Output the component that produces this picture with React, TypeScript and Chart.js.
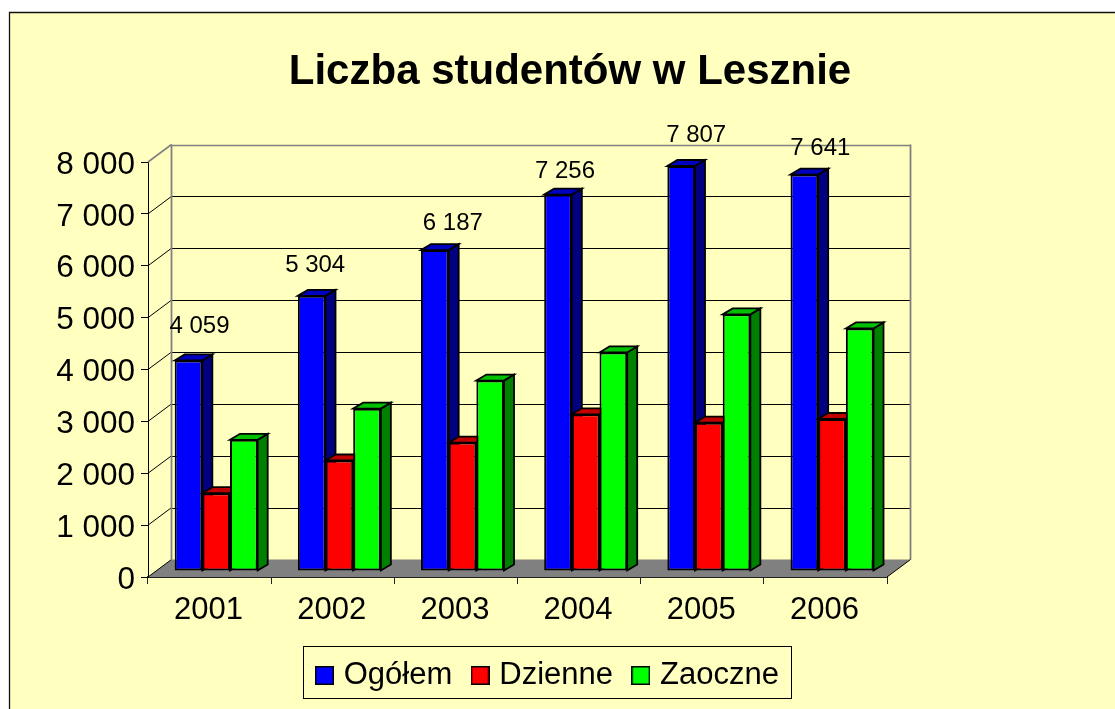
import React, { useEffect, useRef } from "react";
import { Chart, registerables } from "chart.js";

Chart.register(...registerables);

const years = ["2001", "2002", "2003", "2004", "2005", "2006"];
const ogolem = [4059, 5304, 6187, 7256, 7807, 7641];
const dzienne = [1500, 2130, 2475, 3020, 2860, 2930];
const zaoczne = [2529, 3130, 3671, 4213, 4947, 4676];

const FONT = '"Liberation Sans", Arial, sans-serif';
const FRONT = ["#0000FF", "#FF0000", "#00FF00"];
const TOP = ["#0000C0", "#C00000", "#00C000"];
const SIDE = ["#000080", "#800000", "#008000"];
const WALL_DX = 23.5, WALL_DY = 17.5;
const BAR_DX = 6.6, BAR_DY = 6;
const FACE_DX = 10, FACE_DY = 6;
// hand placement of the value labels relative to their bar (as in the source chart)
const LABEL_SHIFT = [[11, 34], [3.5, 30], [18, 27], [7, 23], [15, 31], [16, 26]];

function marker(color: string) {
  const c = document.createElement("canvas");
  c.width = 19; c.height = 19;
  const x = c.getContext("2d")!;
  x.fillStyle = "#000"; x.fillRect(0, 0, 19, 19);
  x.fillStyle = color; x.fillRect(1.5, 1.5, 16, 16);
  return c;
}

const scene = {
  id: "scene",
  afterLayout(chart: any) {
    const t = chart.titleBlock;
    t.left = 10; t.right = 1130; t.top = 47; t.bottom = t.top + 50.4;
    const l = chart.legend;
    l.maxWidth = 1000;
    l.fit();
    l.left = 296.75; l.right = 1100; l.top = 636; l.bottom = 698;
  },
  beforeDraw(chart: any) {
    const c = chart.ctx;
    c.save();
    c.fillStyle = "#FFFFFF"; c.fillRect(0, 0, chart.width, chart.height);
    c.fillStyle = "#FFFFC0"; c.fillRect(9.5, 12.5, chart.width, chart.height);
    c.strokeStyle = "#111"; c.lineWidth = 1.3;
    c.beginPath(); c.moveTo(9.5, chart.height); c.lineTo(9.5, 12.5); c.lineTo(chart.width, 12.5); c.stroke();
    c.restore();
  },
  beforeDatasetsDraw(chart: any) {
    const c = chart.ctx;
    const a = chart.chartArea;
    const y = chart.scales.y;
    c.save();
    // floor
    c.fillStyle = "#808080";
    c.beginPath();
    c.moveTo(a.left, a.bottom); c.lineTo(a.right, a.bottom);
    c.lineTo(a.right + WALL_DX, a.bottom - WALL_DY); c.lineTo(a.left + WALL_DX, a.bottom - WALL_DY);
    c.closePath(); c.fill();
    // back wall grid and side wall diagonals
    y.ticks.forEach((tk: any) => {
      const p = y.getPixelForValue(tk.value);
      const top = tk.value === y.max;
      c.strokeStyle = top ? "#808080" : "#000";
      c.lineWidth = top ? 1.6 : 1;
      if (tk.value > 0) {
        c.beginPath();
        c.moveTo(a.left + WALL_DX, Math.round(p - WALL_DY) + 0.5);
        c.lineTo(a.right + WALL_DX, Math.round(p - WALL_DY) + 0.5);
        c.stroke();
      }
      c.beginPath();
      c.moveTo(a.left, p); c.lineTo(a.left + WALL_DX, p - WALL_DY); c.stroke();
    });
    c.strokeStyle = "#808080"; c.lineWidth = 1.8;
    [a.left + WALL_DX, a.right + WALL_DX].forEach((x) => {
      c.beginPath(); c.moveTo(x, a.top - WALL_DY); c.lineTo(x, a.bottom - WALL_DY); c.stroke();
    });
    c.strokeStyle = "#000"; c.lineWidth = 1;
    c.beginPath();
    c.moveTo(a.right, a.bottom); c.lineTo(a.right + WALL_DX, a.bottom - WALL_DY);
    c.stroke();
    // bars: painted left to right so that each one overlaps its neighbour's depth faces
    c.translate(BAR_DX, -BAR_DY);
    c.lineJoin = "miter";
    years.forEach((_, j) => {
      chart.data.datasets.forEach((_d: any, i: number) => {
        const el = chart.getDatasetMeta(i).data[j];
        const l = el.x - el.width / 2, r = el.x + el.width / 2, tp = el.y, b = el.base;
        c.strokeStyle = "#000"; c.lineWidth = 1.8;
        c.fillStyle = SIDE[i];
        c.beginPath();
        c.moveTo(r, tp); c.lineTo(r + FACE_DX, tp - FACE_DY); c.lineTo(r + FACE_DX, b - FACE_DY); c.lineTo(r, b);
        c.closePath(); c.fill(); c.stroke();
        c.fillStyle = TOP[i];
        c.beginPath();
        c.moveTo(l, tp); c.lineTo(l + FACE_DX, tp - FACE_DY); c.lineTo(r + FACE_DX, tp - FACE_DY); c.lineTo(r, tp);
        c.closePath(); c.fill(); c.stroke();
        el.draw(c);
      });
    });
    c.restore();
    // legend frame
    c.save();
    c.strokeStyle = "#000"; c.lineWidth = 1;
    c.strokeRect(303.5, 646.5, 488, 52);
    c.restore();
  },
  beforeDatasetDraw() {
    return false;
  },
  afterDatasetsDraw(chart: any) {
    const c = chart.ctx;
    const meta = chart.getDatasetMeta(0);
    c.save();
    c.translate(BAR_DX, -BAR_DY);
    c.fillStyle = "#000";
    c.font = `24px ${FONT}`;
    c.textAlign = "center";
    c.textBaseline = "middle";
    ogolem.forEach((v, j) => {
      const el = meta.data[j];
      const txt = String(v).replace(/\B(?=(\d{3})+$)/g, " ");
      c.fillText(txt, el.x + LABEL_SHIFT[j][0], el.y - LABEL_SHIFT[j][1]);
    });
    c.restore();
  },
};

export default function App() {
  const ref = useRef<HTMLCanvasElement>(null);
  useEffect(() => {
    const chart = new Chart(ref.current!, {
      type: "bar",
      data: {
        labels: years,
        datasets: [
          { label: "Ogółem", data: ogolem, backgroundColor: FRONT[0] },
          { label: "Dzienne", data: dzienne, backgroundColor: FRONT[1] },
          { label: "Zaoczne", data: zaoczne, backgroundColor: FRONT[2] },
        ],
      },
      options: {
        animation: false,
        responsive: false,
        devicePixelRatio: 1,
        layout: { autoPadding: false, padding: { top: 111.6, left: 0, right: 228, bottom: 1 } },
        datasets: {
          bar: {
            categoryPercentage: 0.674,
            barPercentage: 1,
            borderColor: "#000",
            borderWidth: 2,
            borderSkipped: false,
            inflateAmount: 0,
          },
        },
        plugins: {
          title: {
            display: true,
            text: "Liczba studentów w Lesznie",
            color: "#000",
            padding: 0,
            font: { family: FONT, size: 42, weight: "bold", lineHeight: 1.2 },
          },
          legend: {
            display: true,
            position: "bottom",
            align: "start",
            onClick: () => {},
            labels: {
              color: "#000",
              padding: 24,
              usePointStyle: true,
              pointStyleWidth: 7.5,
              boxHeight: 19,
              font: { family: FONT, size: 31 },
              generateLabels(chart: any) {
                return Chart.defaults.plugins.legend.labels.generateLabels(chart).map((it: any, i: number) => ({
                  ...it,
                  pointStyle: marker(FRONT[i]),
                }));
              },
            },
          },
          tooltip: { enabled: false },
        },
        scales: {
          x: {
            afterFit(s: any) { s.height = 66; },
            grid: { offset: true, drawOnChartArea: false, tickLength: 7, color: "#222", tickColor: "#222" },
            border: { color: "#222", width: 2 },
            ticks: { color: "#000", padding: 8, labelOffset: -1, maxRotation: 0, font: { family: FONT, size: 31 } },
          },
          y: {
            min: 0,
            max: 8000,
            afterFit(s: any) { s.width = 148; },
            grid: { drawOnChartArea: false, tickLength: 7, color: "#000", tickColor: "#000" },
            border: { color: "#000", width: 1 },
            ticks: {
              stepSize: 1000,
              color: "#000",
              padding: 6,
              labelOffset: 3,
              font: { family: FONT, size: 31.5 },
              callback: (v: any) => String(v).replace(/\B(?=(\d{3})+$)/g, " "),
            },
          },
        },
      },
      plugins: [scene],
    } as any);
    return () => chart.destroy();
  }, []);
  return (
    <div style={{ position: "absolute", left: 0, top: 0, width: 1115, height: 709, overflow: "hidden" }}>
      <canvas ref={ref} width={1115} height={709} style={{ display: "block" }} />
    </div>
  );
}
